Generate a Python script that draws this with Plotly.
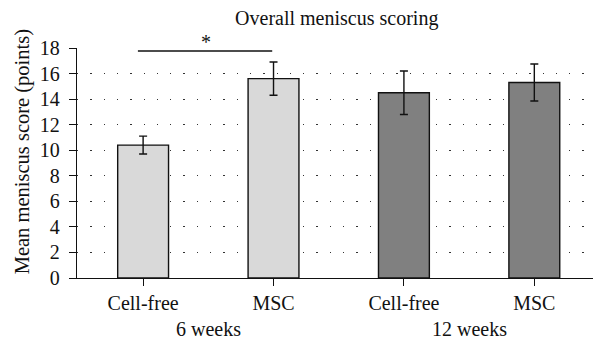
import plotly.graph_objects as go

categories = ["Cell-free", "MSC", "Cell-free", "MSC"]
groups = ["6 weeks", "12 weeks"]
means = [10.4, 15.6, 14.5, 15.3]
errors = [0.7, 1.3, 1.7, 1.45]
colors = ["#d9d9d9", "#d9d9d9", "#808080", "#808080"]
y_ticks = list(range(0, 19, 2))

FONT = "Liberation Serif"
FS = 20
xs = list(range(len(categories)))

fig = go.Figure()
fig.add_trace(go.Bar(
    x=xs, y=means, width=0.39,
    marker=dict(color=colors, line=dict(color="#111111", width=1.4)),
    error_y=dict(type="data", array=errors, visible=True, color="#111111",
                 thickness=1.4, width=4),
    showlegend=False,
))

# group labels
for gi, g in enumerate(groups):
    fig.add_annotation(x=gi * 2 + 0.5, y=0, xref="x", yref="paper", yshift=-51,
                       text=g, showarrow=False, yanchor="middle",
                       font=dict(family=FONT, size=FS, color="#111111"))

# significance bar
fig.add_shape(type="line", x0=-0.04, x1=0.99, y0=17.76, y1=17.76, xref="x", yref="y",
              line=dict(color="#111111", width=1.4))
fig.add_annotation(x=0.48, y=17.76, xref="x", yref="y", text="*", showarrow=False,
                   yanchor="bottom", yshift=-4,
                   font=dict(family=FONT, size=FS, color="#111111"))

fig.add_annotation(x=-0.105, y=0.55, xref="paper", yref="paper",
                   text="Mean meniscus score (points)", textangle=-90, showarrow=False,
                   xanchor="center", yanchor="middle",
                   font=dict(family=FONT, size=20.5, color="#111111"))

fig.update_layout(
    width=596, height=342,
    margin=dict(l=77, r=3, t=48, b=64),
    paper_bgcolor="white", plot_bgcolor="white",
    title=dict(text="Overall meniscus scoring", x=0.565, xanchor="center",
               y=1 - 18 / 342, yanchor="middle",
               font=dict(family=FONT, size=FS, color="#111111")),
    xaxis=dict(range=[-0.507, 3.45], tickvals=xs, ticktext=categories,
               ticks="outside", ticklen=7, tickcolor="#111111", tickwidth=1.3,
               showline=True, linecolor="#111111", linewidth=1.3,
               showgrid=False, zeroline=False,
               tickfont=dict(family=FONT, size=FS, color="#111111")),
    yaxis=dict(range=[0, 18], tickvals=y_ticks,
               ticks="outside", ticklen=7, tickcolor="#111111", tickwidth=1.3,
               ticklabelstandoff=5,
               showline=True, linecolor="#111111", linewidth=1.3,
               showgrid=True, gridcolor="#333333", gridwidth=1.2,
               griddash="1.3px,12px", zeroline=False,
               tickfont=dict(family=FONT, size=FS, color="#111111")),
)

fig.write_html("out.html", config={"displayModeBar": False},
               post_script="document.body.style.margin='0px';")
